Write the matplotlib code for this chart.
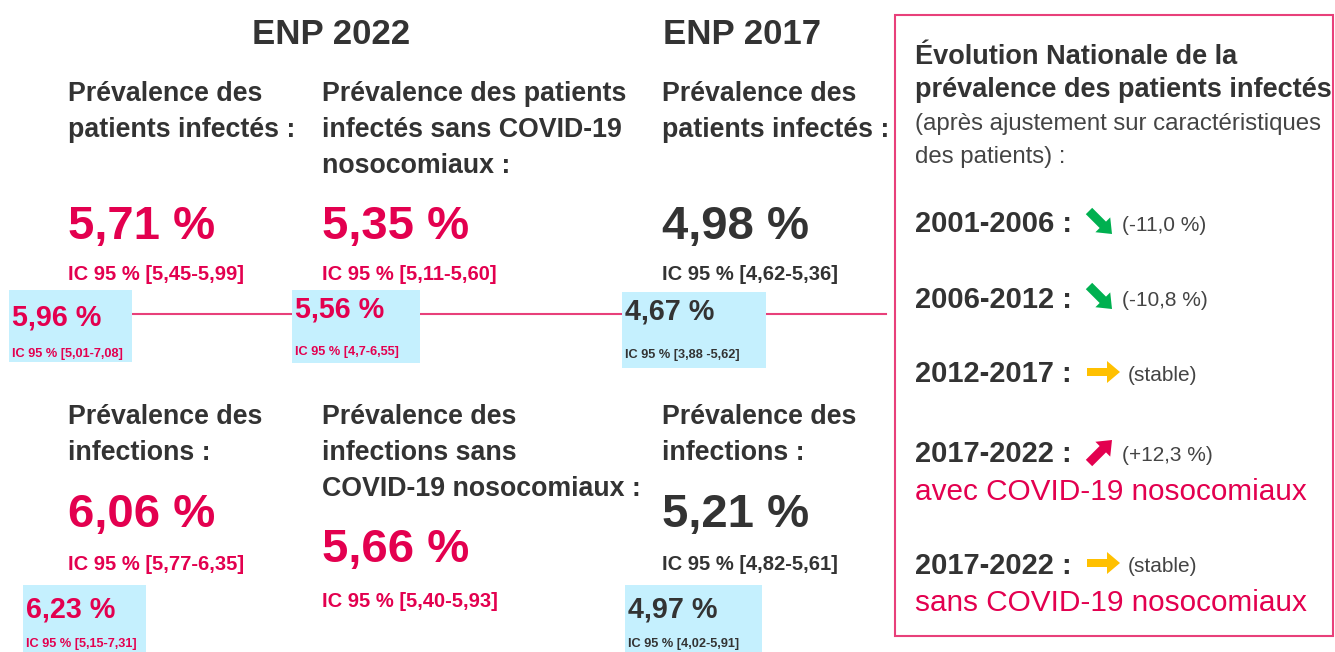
import matplotlib
matplotlib.use('Agg')
import matplotlib.pyplot as plt
from matplotlib.patches import Rectangle, FancyArrow

plt.rcParams['font.family'] = ['Liberation Sans', 'DejaVu Sans']

# data
survey_titles = ['ENP 2022', 'ENP 2017']
top_labels = ['Prévalence des\npatients infectés :',
              'Prévalence des patients\ninfectés sans COVID-19\nnosocomiaux :',
              'Prévalence des\npatients infectés :']
top_values = [5.71, 5.35, 4.98]
top_ci = ['[5,45-5,99]', '[5,11-5,60]', '[4,62-5,36]']
bottom_labels = ['Prévalence des\ninfections :',
                 'Prévalence des\ninfections sans\nCOVID-19 nosocomiaux :',
                 'Prévalence des\ninfections :']
bottom_values = [6.06, 5.66, 5.21]
bottom_ci = ['[5,77-6,35]', '[5,40-5,93]', '[4,82-5,61]']
box_values = [5.96, 5.56, 4.67, 6.23, 4.97]
box_ci = ['[5,01-7,08]', '[4,7-6,55]', '[3,88 -5,62]', '[5,15-7,31]', '[4,02-5,91]']

panel_title = ['Évolution Nationale de la', 'prévalence des patients infectés']
panel_sub = ['(après ajustement sur caractéristiques', 'des patients) :']
periods = ['2001-2006', '2006-2012', '2012-2017', '2017-2022', '2017-2022']
trend = ['down', 'down', 'flat', 'up', 'flat']
changes = ['(-11,0 %)', '(-10,8 %)', '(stable)', '(+12,3 %)', '(stable)']
notes = ['', '', '', 'avec COVID-19 nosocomiaux', 'sans COVID-19 nosocomiaux']

PINK = '#E3004F'
DARK = '#333333'
BLUE = '#C5F0FE'
LINE = '#E8407A'
arrow_col = {'down': '#00B050', 'up': '#E3004F', 'flat': '#FFC000'}


def pct(v):
    return f'{v:.2f}'.replace('.', ',') + ' %'


fig = plt.figure(figsize=(13.35, 6.52), dpi=100)
ax = fig.add_axes([0, 0, 1, 1])
ax.set_xlim(0, 1335)
ax.set_ylim(652, 0)
ax.axis('off')


def lines(x, y0, text, step, **kw):
    for i, t in enumerate(text.split('\n')):
        ax.text(x, y0 + i * step, t, va='baseline', ha='left', **kw)


# titles
for t, xc in zip(survey_titles, [331, 742]):
    ax.text(xc, 44, t, ha='center', va='baseline', fontsize=25, fontweight='bold', color=DARK)

# columns
col_x = [68, 322, 662]
top_num_y = [239, 239, 239]
top_ci_y = [280, 280, 280]
bot_num_y = [527, 562, 527]
bot_ci_y = [570, 607, 570]
for i, x in enumerate(col_x):
    c = DARK if i == 2 else PINK
    lines(x, 101, top_labels[i], 36, fontsize=19.3, fontweight='bold', color=DARK)
    ax.text(x, top_num_y[i], pct(top_values[i]), va='baseline', fontsize=34, fontweight='bold', color=c)
    ax.text(x, top_ci_y[i], 'IC 95 % ' + top_ci[i], va='baseline', fontsize=14.5, fontweight='bold', color=c)
    lines(x, 424, bottom_labels[i], 36, fontsize=19.3, fontweight='bold', color=DARK)
    ax.text(x, bot_num_y[i], pct(bottom_values[i]), va='baseline', fontsize=34, fontweight='bold', color=c)
    ax.text(x, bot_ci_y[i], 'IC 95 % ' + bottom_ci[i], va='baseline', fontsize=14.5, fontweight='bold', color=c)

# connecting line + light blue boxes
ax.plot([132, 886], [314, 314], color=LINE, lw=1.5, zorder=1)
boxes = [(9, 290, 123, 72), (292, 290, 128, 73), (622, 292, 144, 76),
         (23, 585, 123, 70), (625, 585, 137, 70)]
box_num_y = [326, 318, 320, 617, 617]
box_ci_y = [357, 355, 358, 647, 647]
for i, (bx, by, bw, bh) in enumerate(boxes):
    c = DARK if i in (2, 4) else PINK
    ax.add_patch(Rectangle((bx, by), bw, bh, facecolor=BLUE, edgecolor='none', zorder=2))
    ax.text(bx + 3, box_num_y[i], pct(box_values[i]), va='baseline', fontsize=20.7,
            fontweight='bold', color=c, zorder=3)
    ax.text(bx + 3, box_ci_y[i], 'IC 95 % ' + box_ci[i], va='baseline', fontsize=9.2,
            fontweight='bold', color=c, zorder=3)

# right panel
ax.add_patch(Rectangle((895, 15), 438, 621, facecolor='none', edgecolor=LINE, lw=1.5, zorder=1))
for j, t in enumerate(panel_title):
    ax.text(915, 64 + 33 * j, t, va='baseline', fontsize=19.5, fontweight='bold', color=DARK)
for j, t in enumerate(panel_sub):
    ax.text(915, 130 + 33 * j, t, va='baseline', fontsize=17.3, color='#444444')

row_y = [222, 297, 372, 452, 563]
for k, y in enumerate(row_y):
    ax.text(915, y + 10.5, periods[k] + ' :', va='baseline', fontsize=21, fontweight='bold', color=DARK)
    d = trend[k]
    if d == 'down':
        ar = FancyArrow(1089, y - 11, 23, 23, width=9, head_width=21, head_length=13,
                        length_includes_head=True, color=arrow_col[d], lw=0)
    elif d == 'up':
        ar = FancyArrow(1089, y + 11, 23, -23, width=9, head_width=21, head_length=13,
                        length_includes_head=True, color=arrow_col[d], lw=0)
    else:
        ar = FancyArrow(1087, y, 33, 0, width=8, head_width=22, head_length=13,
                        length_includes_head=True, color=arrow_col[d], lw=0)
    ax.add_patch(ar)
    cx = 1128 if changes[k] == '(stable)' else 1122
    ax.text(cx, y + 9, changes[k], va='baseline', fontsize=15, color='#444444')
    if notes[k]:
        ax.text(915, y + 48, notes[k], va='baseline', fontsize=21.4, color=PINK)

fig.savefig('out.png', dpi=100)
